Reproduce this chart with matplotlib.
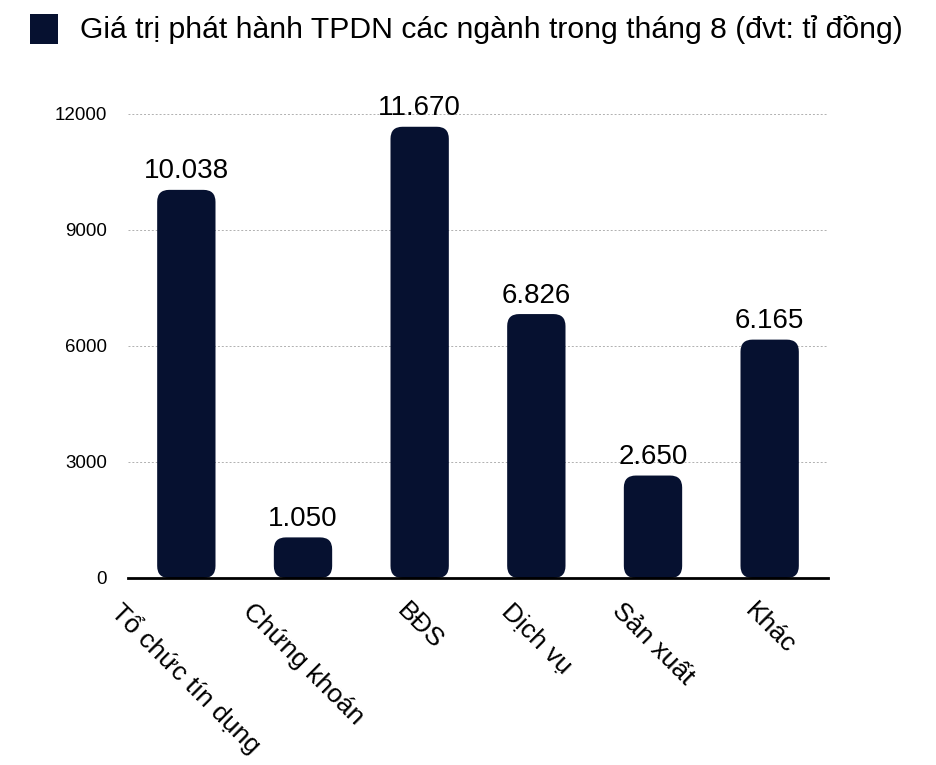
import matplotlib
matplotlib.use("Agg")
import matplotlib.pyplot as plt
from matplotlib.patches import FancyBboxPatch, Rectangle

plt.rcParams['font.family'] = ['Liberation Sans', 'DejaVu Sans']

# du lieu
categories = ["Tổ chức tín dụng", "Chứng khoán", "BĐS", "Dịch vụ", "Sản xuất", "Khác"]
values = [10038, 1050, 11670, 6826, 2650, 6165]
y_ticks = [0, 3000, 6000, 9000, 12000]
legend_label = "Giá trị phát hành TPDN các ngành trong tháng 8 (đvt: tỉ đồng)"

bar_color = "#061130"
W, H = 937, 765

fig = plt.figure(figsize=(W / 100, H / 100), dpi=100)
ax = fig.add_axes([128/W, 1 - 578/H, 700/W, (578 - 114)/H])

x = list(range(len(categories)))
bars = ax.bar(x, values, width=0.5, color=bar_color)

ax.set_xlim(-0.5, len(categories) - 0.5)
ax.set_ylim(0, 12000)

# zaokraglone slupki zamiast prostokatow
ax_w = ax.get_position().width * W
ax_h = ax.get_position().height * H
x_per_px = (ax.get_xlim()[1] - ax.get_xlim()[0]) / ax_w
y_per_px = (ax.get_ylim()[1] - ax.get_ylim()[0]) / ax_h
aspect = y_per_px / x_per_px
radius_px = 12
for b in bars:
    bx, by = b.get_x(), b.get_y()
    bw, bh = b.get_width(), b.get_height()
    r = min(radius_px * x_per_px, bw / 2, bh / aspect / 2)
    p = FancyBboxPatch((bx, by), bw, bh,
                       boxstyle=f"round,pad=0,rounding_size={r}",
                       mutation_aspect=aspect,
                       facecolor=bar_color, edgecolor="none", zorder=3)
    b.set_visible(False)
    ax.add_patch(p)

for xi, v in zip(x, values):
    ax.annotate(f"{v:,}".replace(",", "."), (xi, v), xytext=(0, 4),
                textcoords="offset points", ha="center", va="bottom",
                fontsize=20, color="black", zorder=4, annotation_clip=False)

# siatka
for t in y_ticks[1:]:
    ax.axhline(t, color="#b0b0b0", lw=0.7, ls=(0, (2, 2)), zorder=1)

ax.set_yticks(y_ticks)
ax.set_yticklabels([str(t) for t in y_ticks], fontsize=13.5)
ax.set_xticks(x)
ax.set_xticklabels(categories, fontsize=19, rotation=-45, ha="center", va="top")
ax.tick_params(axis="both", length=0)
ax.tick_params(axis="x", pad=15)
ax.tick_params(axis="y", pad=15)

for s in ["top", "right", "left"]:
    ax.spines[s].set_visible(False)
ax.spines["bottom"].set_linewidth(2)
ax.spines["bottom"].set_color("black")
ax.spines["bottom"].set_zorder(5)

# legenda
fig.add_artist(Rectangle((30/W, 1 - 44/H), 28/W, 30/H, transform=fig.transFigure,
                         facecolor=bar_color, edgecolor="none"))
fig.text(80/W, 1 - 30/H, legend_label, fontsize=21.7, ha="left", va="center")

fig.savefig("out.png", dpi=100)
